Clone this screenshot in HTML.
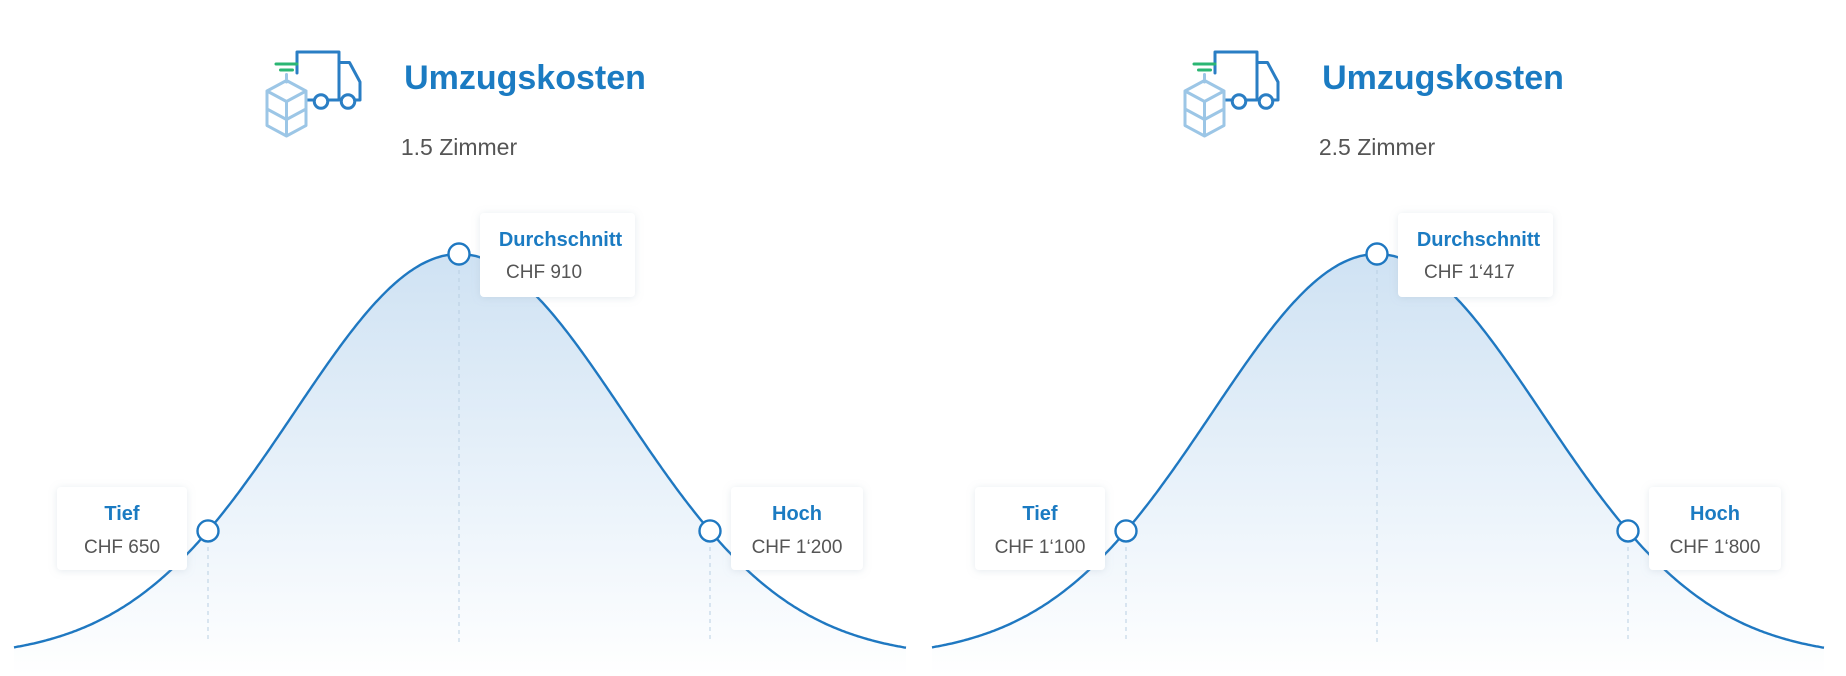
<!DOCTYPE html>
<html><head><meta charset="utf-8"><style>
html,body{margin:0;padding:0;background:#fff;width:1846px;height:676px;overflow:hidden}
svg{display:block}
.t{font-family:"Liberation Sans",sans-serif;font-weight:bold;fill:#1b7bc2}
.g{font-family:"Liberation Sans",sans-serif;fill:#555}
</style></head><body>
<svg id="s" width="1846" height="676" viewBox="0 0 1846 676" xmlns="http://www.w3.org/2000/svg">
<defs>
<linearGradient id="fg" x1="0" y1="0" x2="0" y2="1">
<stop offset="0" stop-color="#cfe2f3"/><stop offset="0.55" stop-color="#e9f2fa"/><stop offset="1" stop-color="#ffffff"/>
</linearGradient>
<filter id="sh" x="-20%" y="-20%" width="140%" height="140%"><feDropShadow dx="0" dy="1" stdDeviation="4" flood-color="#9ab" flood-opacity="0.25"/></filter>
<g id="truck" fill="none" stroke-width="2" stroke-linejoin="round" stroke-linecap="round">
<path d="M24 2 H52 V34 H45 M35 34 H31 M24 2 V16" stroke="#2a7ec4"/>
<path d="M52 9 H59 L66 22 V34 H63" stroke="#2a7ec4"/>
<circle cx="58" cy="35" r="4.5" stroke="#2a7ec4" fill="#fff"/>
<circle cx="40" cy="35" r="4.5" stroke="#2a7ec4" fill="#fff"/>
<path d="M10 10 H24 M13 14 H21" stroke="#2bb673"/>
<path d="M17 17 V22 M4 28 L17 21 L30 28 L17 35 Z M4 28 V40 L17 47 L30 40 V28 M4 40 V51 L17 58 L30 51 V40 M17 35 V58 M4 40 L17 47" stroke="#9cc6e6"/>
</g>
</defs>
</svg>
<script>
var s=document.getElementById('s');
function el(n,a,t){var e=document.createElementNS('http://www.w3.org/2000/svg',n);for(var k in a)e.setAttribute(k,a[k]);if(t)e.textContent=t;s.appendChild(e);return e;}
function panel(o,sub,lo,avg,hi){
 var c=459+o,sig=165,base=658,A=404;
 function y(x){return base-A*Math.exp(-Math.pow(x-c,2)/(2*sig*sig));}
 var d='M'+(14+o)+' '+y(14+o).toFixed(1);
 for(var x=16+o;x<=906+o;x+=2)d+=' L'+x+' '+y(x).toFixed(1);
 el('path',{d:d+' L'+(906+o)+' 676 L'+(14+o)+' 676 Z',fill:'url(#fg)'});
 el('path',{d:d,fill:'none',stroke:'#1f78c1','stroke-width':2.4});
 var xs=[208+o,c,710+o];
 xs.forEach(function(x){el('line',{x1:x,y1:y(x),x2:x,y2:642,stroke:'#b9cfe2','stroke-dasharray':'4 4','stroke-width':1});});
 el('use',{href:'#truck',transform:'translate('+(261+o)+',49) scale(1.5)'});
 el('text',{x:525+o,y:89,'text-anchor':'middle','class':'t','font-size':34},'Umzugskosten');
 el('text',{x:459+o,y:155,'text-anchor':'middle','class':'g','font-size':23},sub);
 var boxes=[[57,487,130,83,'Tief',lo],[480,213,155,84,'Durchschnitt',avg],[731,487,132,83,'Hoch',hi]];
 boxes.forEach(function(b,i){
  el('rect',{x:b[0]+o,y:b[1],width:b[2],height:b[3],rx:4,fill:'#fff',filter:'url(#sh)'});
  var cx=b[0]+o+b[2]/2;
  if(i==1){el('text',{x:cx+3,y:b[1]+33,'text-anchor':'middle','class':'t','font-size':20},b[4]);
   el('text',{x:b[0]+o+26,y:b[1]+65,'class':'g','font-size':19},b[5]);}
  else{el('text',{x:cx,y:b[1]+33,'text-anchor':'middle','class':'t','font-size':20},b[4]);
   el('text',{x:cx,y:b[1]+66,'text-anchor':'middle','class':'g','font-size':19},b[5]);}
 });
 xs.forEach(function(x){el('circle',{cx:x,cy:y(x),r:10.5,fill:'#fff',stroke:'#1f78c1','stroke-width':2.4});});
}
panel(0,'1.5 Zimmer','CHF 650','CHF 910','CHF 1‘200');
panel(918,'2.5 Zimmer','CHF 1‘100','CHF 1‘417','CHF 1‘800');
</script>
</body></html>
